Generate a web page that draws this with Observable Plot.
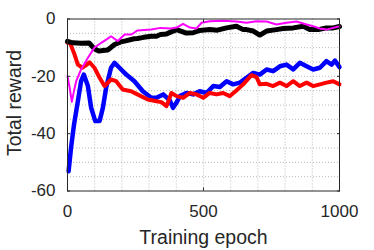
<!DOCTYPE html>
<html>
<head>
<meta charset="utf-8">
<script src="https://cdn.jsdelivr.net/npm/d3@7"></script>
<script src="https://cdn.jsdelivr.net/npm/@observablehq/plot@0.6"></script>
<style>
  html, body { margin: 0; padding: 0; background: #fff; }
  #chart { width: 374px; height: 250px; }
</style>
</head>
<body>
<div id="chart"></div>
<script>
// ---- data ----
const xTicks = [0, 500, 1000];
const yTicks = [-60, -40, -20, 0];
const xGrid = [100, 200, 300, 400, 500, 600, 700, 800, 900];
const yGrid = [-55, -50, -45, -40, -35, -30, -25, -20, -15, -10, -5];

const blackEpoch = [0, 20, 50, 80, 100, 115, 130, 148, 173, 196, 210, 245, 257, 280, 308, 327, 342, 364, 401, 437, 462, 486, 523, 551, 585, 621, 646, 658, 683, 707, 732, 768, 793, 830, 867, 891, 922, 952, 977, 1000];
const blackReward = [-7.8, -8.3, -8.5, -8.4, -10.5, -11.2, -11.0, -10.8, -8.9, -8.0, -7.7, -6.9, -6.8, -6.4, -6.0, -6.0, -5.4, -5.2, -3.7, -4.9, -4.8, -4.0, -3.7, -3.9, -3.1, -2.5, -3.7, -3.7, -4.2, -5.6, -4.2, -3.7, -3.3, -3.1, -2.5, -3.7, -3.7, -3.1, -3.1, -2.6];

const magentaEpoch = [0, 8, 16, 24, 32, 50, 75, 99, 124, 145, 160, 185, 210, 235, 257, 308, 342, 380, 401, 425, 450, 474, 493, 523, 572, 621, 658, 695, 732, 768, 805, 842, 879, 903, 928, 952, 977, 1000];
const magentaReward = [-20, -24, -28.9, -25, -21.7, -17.6, -13.5, -10, -8.3, -7.0, -6.0, -7.7, -5.4, -5.4, -4.0, -3.7, -3.1, -3.3, -3.0, -1.7, -3.0, -3.3, -1.3, -0.8, -0.6, -0.9, -1.3, -0.8, -0.9, -1.9, -1.3, -0.9, -1.9, -2.5, -3.3, -3.7, -3.1, -2.5];

const redEpoch = [0, 10, 26, 38, 55, 70, 81, 99, 118, 136, 160, 179, 203, 234, 257, 295, 327, 345, 364, 382, 401, 425, 450, 474, 499, 523, 548, 572, 597, 621, 646, 676, 695, 707, 732, 756, 781, 805, 830, 854, 879, 903, 928, 952, 977, 1000];
const redReward = [-8.3, -8.5, -12.4, -15.9, -17, -16, -15.1, -17, -20.5, -23.4, -21.1, -21.7, -24.6, -25.2, -26.3, -28.1, -28.7, -29, -30.4, -25.8, -26.9, -27.5, -25.8, -26.3, -27.5, -25.8, -26.3, -25.8, -26.9, -24.9, -22.8, -19.6, -20.3, -22.8, -22.6, -23.4, -22.2, -23.4, -21.7, -23.4, -22.2, -23.4, -22.8, -22.2, -21.7, -22.8];

const blueEpoch = [4, 13, 24, 38, 50, 60, 75, 87, 102, 118, 130, 142, 160, 173, 191, 216, 246, 277, 308, 327, 352, 376, 388, 401, 413, 437, 462, 486, 511, 536, 560, 585, 609, 634, 658, 683, 707, 732, 756, 781, 805, 830, 854, 879, 903, 928, 952, 971, 983, 1000];
const blueReward = [-53.1, -44.9, -36.8, -28.7, -21.7, -19.4, -23.4, -31, -35.6, -35.6, -31, -24, -17, -15.3, -17, -19.4, -21.7, -25.2, -27.5, -27.5, -26.3, -28.4, -31.0, -29.1, -26.9, -25.8, -26.3, -25.2, -25.8, -23.4, -23.7, -21.7, -22.8, -22.2, -20.5, -18.8, -19.4, -17.6, -18.2, -16.5, -15.9, -17.6, -15.3, -16.5, -17.6, -17, -14.7, -15.9, -14.5, -16.8];

const xLabel = "Training epoch";
const yLabel = "Total reward";

const toRows = (xs, ys) => xs.map((x, i) => ({x, y: ys[i]}));
const blue = toRows(blueEpoch, blueReward);
const red = toRows(redEpoch, redReward);
const black = toRows(blackEpoch, blackReward);
const magenta = toRows(magentaEpoch, magentaReward);

const axisColor = "#262626";
const noLabel = () => "";
const plain = (d) => String(d);

const chart = Plot.plot({
  width: 374,
  height: 250,
  marginLeft: 67,
  marginRight: 35,
  marginTop: 18.5,
  marginBottom: 59.5,
  style: {fontFamily: "'Liberation Sans', Arial, Helvetica, sans-serif", fontSize: "17px", color: axisColor, background: "#fff"},
  x: {domain: [0, 1000]},
  y: {domain: [-60, 0]},
  marks: [
    Plot.gridX(xGrid, {stroke: "#9a9a9a", strokeOpacity: 0.7, strokeDasharray: "1,2"}),
    Plot.gridY(yGrid, {stroke: "#9a9a9a", strokeOpacity: 0.7, strokeDasharray: "1,2"}),
    Plot.line(blue, {x: "x", y: "y", stroke: "#0000ff", strokeWidth: 4.5, strokeLinejoin: "round"}),
    Plot.line(red, {x: "x", y: "y", stroke: "#ff0000", strokeWidth: 4, strokeLinejoin: "round"}),
    Plot.line(black, {x: "x", y: "y", stroke: "#000000", strokeWidth: 5, strokeLinejoin: "round"}),
    Plot.line(magenta, {x: "x", y: "y", stroke: "#ff00ff", strokeWidth: 2, strokeLinejoin: "round"}),
    Plot.frame({stroke: axisColor, strokeWidth: 1}),
    // inward tick marks on all four sides
    Plot.axisX(xTicks, {anchor: "bottom", tickSize: -3, tickFormat: noLabel, label: null, stroke: axisColor}),
    Plot.axisX(xTicks, {anchor: "top", tickSize: -3, tickFormat: noLabel, label: null, stroke: axisColor}),
    Plot.axisY(yTicks, {anchor: "left", tickSize: -3, tickFormat: noLabel, label: null, stroke: axisColor}),
    Plot.axisY(yTicks, {anchor: "right", tickSize: -3, tickFormat: noLabel, label: null, stroke: axisColor}),
    // tick labels
    Plot.axisX(xTicks, {anchor: "bottom", tickSize: 0, tickPadding: 14, tickFormat: plain, label: null, fill: axisColor, fontSize: 17}),
    Plot.axisY(yTicks, {anchor: "left", tickSize: 0, tickPadding: 12, tickFormat: plain, label: null, fill: axisColor, fontSize: 17}),
    // axis titles
    Plot.text([xLabel], {frameAnchor: "bottom", dy: 46.5, lineAnchor: "middle", textAnchor: "middle", fontSize: 19.5, fill: axisColor}),
    Plot.text([yLabel], {frameAnchor: "left", dx: -52.5, dy: -2, rotate: -90, lineAnchor: "middle", textAnchor: "middle", fontSize: 19.5, fill: axisColor})
  ]
});
document.getElementById("chart").appendChild(chart);
</script>
</body>
</html>
